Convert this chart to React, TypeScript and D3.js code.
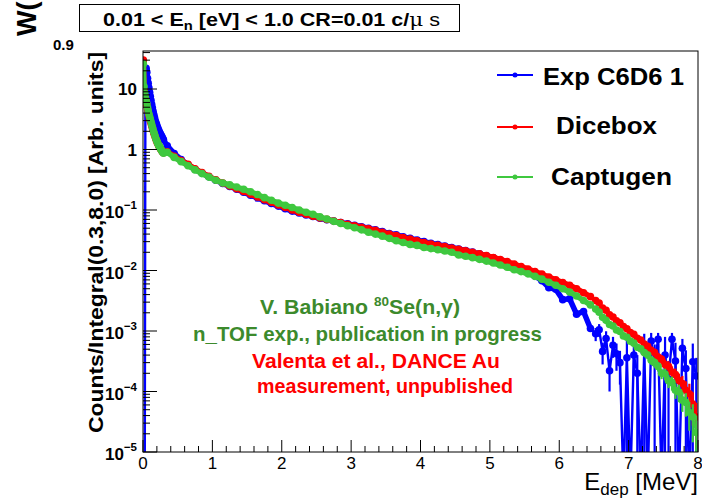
import React from 'react';
import * as d3 from 'd3';

// Energy grids (MeV, bin centres)
const lowE = d3.range(30).map((i) => 0.005 + i * 0.01);
const midE = d3.range(62).map((i) => 0.35 + i * 0.1);
const tailE = d3.range(30).map((i) => 6.525 + i * 0.05);

// Exp C6D6 1 (0 = empty bin)
const expLow = [0, 0, 0, 21, 22, 19, 15, 12.5, 10.5, 8.8, 7.6, 6.5, 5.6, 4.9, 4.3, 3.8, 3.4, 3.05, 2.8, 2.6, 2.4, 2.25, 2.1, 1.97, 1.87, 1.77, 1.68, 1.6, 1.52, 1.45];
const expMid = [1.15, 0.86, 0.68, 0.56, 0.47, 0.41, 0.355, 0.31, 0.275, 0.245, 0.22, 0.197, 0.176, 0.158, 0.142, 0.128, 0.116, 0.105, 0.096, 0.089, 0.083, 0.078, 0.073, 0.069, 0.066, 0.062, 0.059, 0.056, 0.053, 0.05, 0.047, 0.044, 0.041, 0.039, 0.036, 0.034, 0.032, 0.03, 0.0283, 0.0268, 0.0254, 0.024, 0.0227, 0.0214, 0.0201, 0.0188, 0.0175, 0.0162, 0.0149, 0.0136, 0.0122, 0.0108, 0.0094, 0.0081, 0.0068, 0.0052, 0.0049, 0.0033, 0.0034, 0.0019, 0.0021, 0.0011];
const expTail = [9.0e-4, 1.05e-3, 4.6e-4, 7.5e-4, 2.2e-4, 5.8e-4, 4.2e-4, 3.0e-4, 0, 3.6e-4, 0, 4.0e-4, 2.0e-4, 0, 4.5e-4, 0, 6.8e-4, 3.0e-4, 7.3e-4, 0, 4.0e-4, 1.6e-4, 7.3e-4, 3.2e-4, 0, 5.2e-4, 2.4e-4, 0, 3.1e-4, 1.8e-4];
const expTailErr = [2.2e-4, 2.5e-4, 1.8e-4, 2.4e-4, 1.2e-4, 2.2e-4, 2.0e-4, 1.7e-4, 0, 3.6e-4, 0, 2.0e-4, 2.0e-4, 0, 4.5e-4, 0, 2.5e-4, 3.0e-4, 2.0e-4, 0, 4.0e-4, 1.6e-4, 2.0e-4, 3.2e-4, 0, 2.2e-4, 2.4e-4, 0, 3.1e-4, 1.8e-4];

// Dicebox
const diceLow = [30, 9.5, 7.8, 6.8, 6.1, 5.4, 4.7, 4.15, 3.7, 3.3, 3.0, 2.75, 2.5, 2.27, 2.08, 1.9, 1.75, 1.62, 1.5, 1.4, 1.31, 1.24, 1.17, 1.11, 1.06, 1.02, 0.98, 0.94, 0.91, 0.88];
const diceMid = [0.92, 0.77, 0.66, 0.57, 0.48, 0.415, 0.36, 0.315, 0.28, 0.25, 0.225, 0.202, 0.182, 0.164, 0.148, 0.134, 0.121, 0.11, 0.1, 0.092, 0.085, 0.079, 0.074, 0.07, 0.066, 0.062, 0.058, 0.055, 0.052, 0.049, 0.046, 0.043, 0.04, 0.038, 0.035, 0.033, 0.031, 0.029, 0.0275, 0.026, 0.0248, 0.0236, 0.0224, 0.0212, 0.02, 0.0188, 0.0176, 0.0164, 0.0152, 0.014, 0.0128, 0.0116, 0.0106, 0.0096, 0.0087, 0.0078, 0.007, 0.0063, 0.0057, 0.005, 0.0043, 0.0037];
const diceTail = [0.0032, 0.0029, 0.0024, 0.0022, 0.00185, 0.0017, 0.00148, 0.00137, 0.00118, 0.00109, 0.00094, 0.00088, 0.00076, 0.00071, 0.00061, 0.00056, 0.00048, 0.00044, 0.00037, 0.00034, 0.00028, 0.00026, 0.00021, 0.00019, 0.000152, 0.000135, 0.000105, 0.000092, 0.000062, 0.000038];
const diceTailRelErr = [0.05, 0.05, 0.06, 0.06, 0.07, 0.07, 0.08, 0.08, 0.09, 0.09, 0.1, 0.1, 0.11, 0.12, 0.13, 0.14, 0.15, 0.16, 0.17, 0.18, 0.2, 0.22, 0.24, 0.26, 0.3, 0.34, 0.4, 0.46, 0.56, 0.7];

// Captugen
const captLow = [26, 11, 8.5, 7.2, 6.5, 5.8, 5.0, 4.4, 3.9, 3.5, 3.2, 2.9, 2.6, 2.35, 2.15, 1.95, 1.8, 1.65, 1.52, 1.42, 1.33, 1.25, 1.18, 1.12, 1.1, 1.02, 0.98, 0.94, 0.9, 0.87];
const captMid = [0.9, 0.74, 0.63, 0.54, 0.46, 0.4, 0.35, 0.31, 0.28, 0.26, 0.24, 0.22, 0.2, 0.18, 0.16, 0.145, 0.13, 0.12, 0.11, 0.1, 0.092, 0.085, 0.077, 0.071, 0.065, 0.06, 0.055, 0.051, 0.047, 0.043, 0.04, 0.037, 0.034, 0.031, 0.029, 0.027, 0.026, 0.024, 0.023, 0.022, 0.021, 0.02, 0.018, 0.0172, 0.0163, 0.0153, 0.0143, 0.0133, 0.0123, 0.0113, 0.0103, 0.0096, 0.0088, 0.008, 0.0072, 0.0064, 0.0057, 0.005, 0.0044, 0.0038, 0.0032, 0.0027];
const captTail = [0.0023, 0.00205, 0.00168, 0.0015, 0.00128, 0.00121, 0.00104, 0.00098, 0.00083, 0.00079, 0.00068, 0.00063, 0.00054, 0.00051, 0.00044, 0.0004, 0.00033, 0.0003, 0.00026, 0.0002, 0.000195, 0.00015, 0.00014, 0.000105, 0.000098, 0.000072, 0.000066, 0.000045, 0.000038, 0.000021];
const captTailRelErr = [0.06, 0.06, 0.07, 0.07, 0.08, 0.08, 0.09, 0.09, 0.1, 0.1, 0.11, 0.12, 0.12, 0.13, 0.14, 0.15, 0.16, 0.17, 0.18, 0.2, 0.22, 0.24, 0.26, 0.28, 0.32, 0.36, 0.42, 0.5, 0.62, 0.9];

const legendLabels = ['Exp C6D6 1', 'Dicebox', 'Captugen'];
const xTickLabels = ['0', '1', '2', '3', '4', '5', '6', '7', '8'];
const yDecades = [1, 0, -1, -2, -3, -4, -5];

const FONT = '"Liberation Sans", Arial, Helvetica, sans-serif';
const BLUE = '#0000ff';
const RED = '#ff0000';
const GREEN = '#3fc83f';
const TEXT_GREEN = '#3c8a2c';

const F = { left: 143, right: 698, top: 51, bottom: 452 };

const x = d3.scaleLinear().domain([0, 8]).range([F.left, F.right]);
const y = d3.scaleLog().domain([1e-5, 42.5]).range([F.bottom, F.top]);

type Pt = { e: number; v: number; err: number };

function buildSeries(low: number[], mid: number[], tail: number[], tailErr: (i: number) => number): Pt[] {
  return [
    ...lowE.map((e, i) => ({ e, v: low[i], err: 0 })),
    ...midE.map((e, i) => ({ e, v: mid[i], err: 0 })),
    ...tailE.map((e, i) => ({ e, v: tail[i], err: tailErr(i) })),
  ];
}

const series = [
  { name: legendLabels[0], color: BLUE, pts: buildSeries(expLow, expMid, expTail, (i) => expTailErr[i]) },
  { name: legendLabels[1], color: RED, pts: buildSeries(diceLow, diceMid, diceTail, (i) => diceTail[i] * diceTailRelErr[i]) },
  { name: legendLabels[2], color: GREEN, pts: buildSeries(captLow, captMid, captTail, (i) => captTail[i] * captTailRelErr[i]) },
];

const below = F.bottom + 30;
const yPos = (v: number) => (v > 0 ? y(v) : below);

const line = d3
  .line<Pt>()
  .x((d) => x(d.e))
  .y((d) => yPos(d.v));

const nBody = lowE.length + midE.length;

function SeriesMarks({ color, pts }: { color: string; pts: Pt[] }) {
  // dense body of the spectrum: markers overlap into a continuous band
  const first = pts.findIndex((p) => p.v > 0);
  const body = pts.slice(first, nBody);
  return (
    <g>
      <path d={line(pts) ?? ''} fill="none" stroke={color} strokeWidth={2.4} strokeLinejoin="round" />
      <path d={line(body) ?? ''} fill="none" stroke={color} strokeWidth={5.5} strokeLinejoin="round" strokeLinecap="round" />
      {pts
        .filter((p) => p.v > 0 && p.err > 0)
        .map((p, i) => (
          <line
            key={'e' + i}
            x1={x(p.e)}
            x2={x(p.e)}
            y1={yPos(p.v - p.err > 0 ? p.v - p.err : 0)}
            y2={y(p.v + p.err)}
            stroke={color}
            strokeWidth={2.2}
          />
        ))}
      {pts
        .filter((p) => p.v > 0)
        .map((p, i) => (
          <circle key={'m' + i} cx={x(p.e)} cy={y(p.v)} r={3.8} fill={color} />
        ))}
    </g>
  );
}

function YLabel({ d }: { d: number }) {
  const ty = y(Math.pow(10, d));
  const common = { x: 137, textAnchor: 'end' as const, fontFamily: FONT, fontWeight: 'bold', fill: '#000' };
  if (d === 1) return <text {...common} y={ty + 6} fontSize={17}>10</text>;
  if (d === 0) return <text {...common} y={ty + 6} fontSize={17}>1</text>;
  return (
    <text {...common} y={ty + 8} fontSize={17}>
      10
      <tspan fontSize={11.5} dy={-9}>{'\u2212' + Math.abs(d)}</tspan>
    </text>
  );
}

export default function App() {
  const xMajor = d3.range(0, 9);
  const xMinor = d3.range(0, 41).map((i) => i * 0.2).filter((v) => Math.abs(v - Math.round(v)) > 1e-6);
  const yMinor: number[] = [];
  for (let d = -5; d <= 1; d++) {
    for (let k = 2; k <= 9; k++) {
      const v = k * Math.pow(10, d);
      if (v < 42.5) yMinor.push(v);
    }
  }
  const legendY = [75, 127, 177];
  const legendTextX = [543, 556, 551];
  const legendTextY = [85, 134, 185];
  const legendTextW = [141, 101, 121];

  return (
    <svg width={702} height={498} style={{ position: 'absolute', left: 0, top: 0, background: '#fff' }}>
      <defs>
        <clipPath id="frameClip">
          <rect x={F.left} y={F.top} width={F.right - F.left} height={F.bottom - F.top} />
        </clipPath>
      </defs>
      <rect x={0} y={0} width={702} height={498} fill="#fff" />

      {/* leftover labels of the neighbouring pad */}
      <text transform="translate(36,36) rotate(-90)" fontFamily={FONT} fontWeight="bold" fontSize={27} fill="#000">W(</text>
      <text x={53} y={50} fontFamily={FONT} fontWeight="bold" fontSize={15} fill="#000">0.9</text>

      {/* data */}
      <g clipPath="url(#frameClip)">
        {series.map((s) => (
          <SeriesMarks key={s.name} color={s.color} pts={s.pts} />
        ))}
      </g>

      {/* frame */}
      <rect x={F.left} y={F.top} width={F.right - F.left} height={F.bottom - F.top} fill="none" stroke="#000" strokeWidth={1} />

      {/* x axis ticks */}
      {xMajor.map((v) => (
        <line key={'xM' + v} x1={x(v)} x2={x(v)} y1={F.bottom} y2={F.bottom - 12} stroke="#000" />
      ))}
      {xMinor.map((v) => (
        <line key={'xm' + v} x1={x(v)} x2={x(v)} y1={F.bottom} y2={F.bottom - 6} stroke="#000" />
      ))}
      {xMajor.map((v, i) => (
        <text key={'xl' + v} x={x(v)} y={469} textAnchor="middle" fontFamily={FONT} fontSize={17} fill="#000">
          {xTickLabels[i]}
        </text>
      ))}

      {/* y axis ticks */}
      {yDecades.map((d) => (
        <line key={'yM' + d} x1={F.left} x2={F.left + 14} y1={y(Math.pow(10, d))} y2={y(Math.pow(10, d))} stroke="#000" />
      ))}
      {yMinor.map((v, i) => (
        <line key={'ym' + i} x1={F.left} x2={F.left + 7} y1={y(v)} y2={y(v)} stroke="#000" />
      ))}
      {yDecades.map((d) => (
        <YLabel key={'yl' + d} d={d} />
      ))}

      {/* axis titles */}
      <text
        transform="translate(103,242.5) rotate(-90)"
        textAnchor="middle"
        fontFamily={FONT}
        fontWeight="bold"
        fontSize={21}
        textLength={381}
        lengthAdjust="spacingAndGlyphs"
        fill="#000"
      >
        Counts/Integral(0.3,8.0) [Arb. units]
      </text>
      <text x={698} y={490} textAnchor="end" fontFamily={FONT} fontSize={24} fill="#000">
        E<tspan fontSize={17} dy={5}>dep</tspan>
        <tspan dy={-5}> [MeV]</tspan>
      </text>

      {/* title box */}
      <rect x={79.5} y={4.5} width={380} height={27} fill="#fff" stroke="#000" strokeWidth={1} />
      <text
        x={103}
        y={26}
        fontFamily={FONT}
        fontWeight="bold"
        fontSize={19}
        textLength={337}
        lengthAdjust="spacingAndGlyphs"
        fill="#000"
      >
        0.01 &lt; E<tspan fontSize={13} dy={4}>n</tspan>
        <tspan dy={-4}> [eV] &lt; 1.0 CR=0.01 c/</tspan>
        <tspan fontFamily='"DejaVu Serif", serif' fontWeight="normal">μ</tspan>
        <tspan fontWeight="normal"> s</tspan>
      </text>

      {/* legend */}
      {series.map((s, i) => (
        <g key={'lg' + i}>
          <line x1={497} x2={533} y1={legendY[i]} y2={legendY[i]} stroke={s.color} strokeWidth={2} />
          <circle cx={515} cy={legendY[i]} r={2.5} fill={s.color} />
          <text
            x={legendTextX[i]}
            y={legendTextY[i]}
            fontFamily={FONT}
            fontWeight="bold"
            fontSize={23}
            textLength={legendTextW[i]}
            lengthAdjust="spacingAndGlyphs"
            fill="#000"
          >
            {s.name}
          </text>
        </g>
      ))}

      {/* annotations */}
      <g fontFamily={FONT} fontWeight="bold" fontSize={20.5}>
        <text x={260} y={314} fill={TEXT_GREEN} textLength={200} lengthAdjust="spacingAndGlyphs">
          V. Babiano <tspan fontSize={13} dy={-8}>80</tspan>
          <tspan dy={8}>Se(n,γ)</tspan>
        </text>
        <text x={193} y={341} fill={TEXT_GREEN} textLength={349} lengthAdjust="spacingAndGlyphs">
          n_TOF exp., publication in progress
        </text>
        <text x={252} y={368} fill={RED} textLength={248} lengthAdjust="spacingAndGlyphs">
          Valenta et al., DANCE Au
        </text>
        <text x={257} y={393} fill={RED} textLength={256} lengthAdjust="spacingAndGlyphs">
          measurement, unpublished
        </text>
      </g>
    </svg>
  );
}
